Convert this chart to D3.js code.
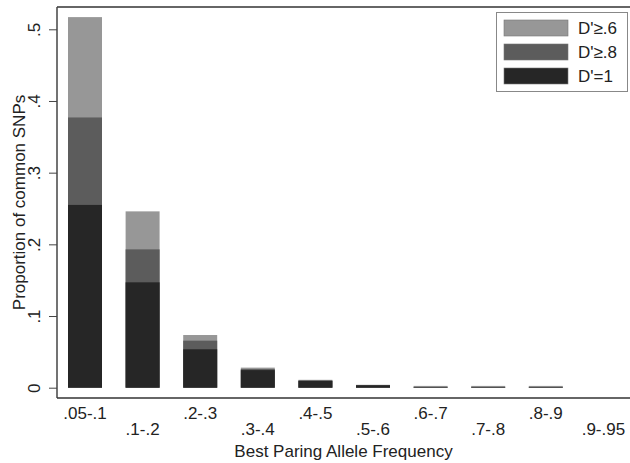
<!DOCTYPE html>
<html><head><meta charset="utf-8">
<script src="https://cdn.jsdelivr.net/npm/d3@7"></script>
<style>body{margin:0;background:#fff}svg{display:block}text{font-family:"Liberation Sans",Arial,sans-serif;fill:#222}</style>
</head><body>
<svg id="c" width="630" height="463"></svg>
<script>
const categories = [".05-.1",".1-.2",".2-.3",".3-.4",".4-.5",".5-.6",".6-.7",".7-.8",".8-.9",".9-.95"];
const dGe6 = [0.517, 0.246, 0.0735, 0.028, 0.011, 0.004, 0.0025, 0.0025, 0.0025, 0];
const dGe8 = [0.377, 0.193, 0.0656, 0.026, 0.010, 0.0038, 0.0012, 0.0012, 0.0012, 0];
const dEq1 = [0.255, 0.147, 0.0536, 0.0245, 0.0095, 0.0033, 0.0006, 0.0006, 0.0006, 0];
const yTicks = [0, 0.1, 0.2, 0.3, 0.4, 0.5];
const yTickLabels = ["0", ".1", ".2", ".3", ".4", ".5"];
const seriesNames = ["D'\u2265.6", "D'\u2265.8", "D'=1"];
const seriesColors = ["#979797", "#5c5c5c", "#262626"];

const svg = d3.select("#c");
const pLeft = 57, pRight = 630, pTop = 7, pBottom = 398;
const step = 57.6;
const fs = 17;
const x = d3.scaleBand().domain(categories).range([56.2, 56.2 + step * categories.length]).paddingInner(0.41).paddingOuter(0.205);
const y = d3.scaleLinear().domain([0, 0.5]).range([387.7, 29.3]);

// frame
svg.append("line").attr("x1", pLeft).attr("x2", pRight).attr("y1", pTop).attr("y2", pTop).attr("stroke", "#333").attr("stroke-width", 1.5);

const series = [dGe6, dGe8, dEq1];
series.forEach((vals, si) => {
  svg.append("g").selectAll("rect").data(vals.map((v, i) => ({c: categories[i], v})).filter(d => d.v > 0))
    .join("rect")
    .attr("x", d => x(d.c)).attr("width", x.bandwidth())
    .attr("y", d => y(d.v)).attr("height", d => y(0) - y(d.v))
    .attr("fill", seriesColors[si]);
});

// y axis
const ya = svg.append("g").attr("transform", `translate(${pLeft},0)`)
  .call(d3.axisLeft(y).tickValues(yTicks).tickSize(8).tickFormat((d, i) => yTickLabels[i]));
ya.select(".domain").attr("d", `M0,${pTop}V${pBottom}`).attr("stroke", "#444").attr("stroke-width", 1.5);
ya.selectAll(".tick line").attr("stroke", "#444");
ya.selectAll(".tick text").attr("font-size", fs).attr("fill", "#222")
  .attr("text-anchor", "middle").attr("dy", null).attr("x", null)
  .attr("transform", "translate(-17,0) rotate(-90)");

// x axis
const xa = svg.append("g").attr("transform", `translate(0,${pBottom})`)
  .call(d3.axisBottom(x).tickSize(0).tickPadding(0));
xa.select(".domain").attr("d", `M${pLeft},0H${pRight}`).attr("stroke", "#333").attr("stroke-width", 1.5);
xa.selectAll(".tick text").attr("font-size", fs).attr("fill", "#222")
  .attr("dy", null).attr("y", (d, i) => i % 2 === 0 ? 21 : 37);

// axis titles
svg.append("text").attr("x", (pLeft + pRight) / 2).attr("y", 457).attr("text-anchor", "middle")
  .attr("font-size", fs).text("Best Paring Allele Frequency");
svg.append("text").attr("transform", `translate(25,${(pTop + pBottom) / 2}) rotate(-90)`).attr("text-anchor", "middle")
  .attr("font-size", fs).text("Proportion of common SNPs");

// legend
const lg = svg.append("g");
lg.append("rect").attr("x", 496.5).attr("y", 12.5).attr("width", 131).attr("height", 79)
  .attr("fill", "#fff").attr("stroke", "#888").attr("stroke-width", 1);
seriesNames.forEach((n, i) => {
  const yy = 20 + i * 24;
  lg.append("rect").attr("x", 504).attr("y", yy).attr("width", 64).attr("height", 16)
    .attr("fill", seriesColors[i]).attr("stroke", "#777").attr("stroke-width", 0.6);
  lg.append("text").attr("x", 578).attr("y", yy + 14).attr("font-size", fs).text(n);
});
</script>
</body></html>
